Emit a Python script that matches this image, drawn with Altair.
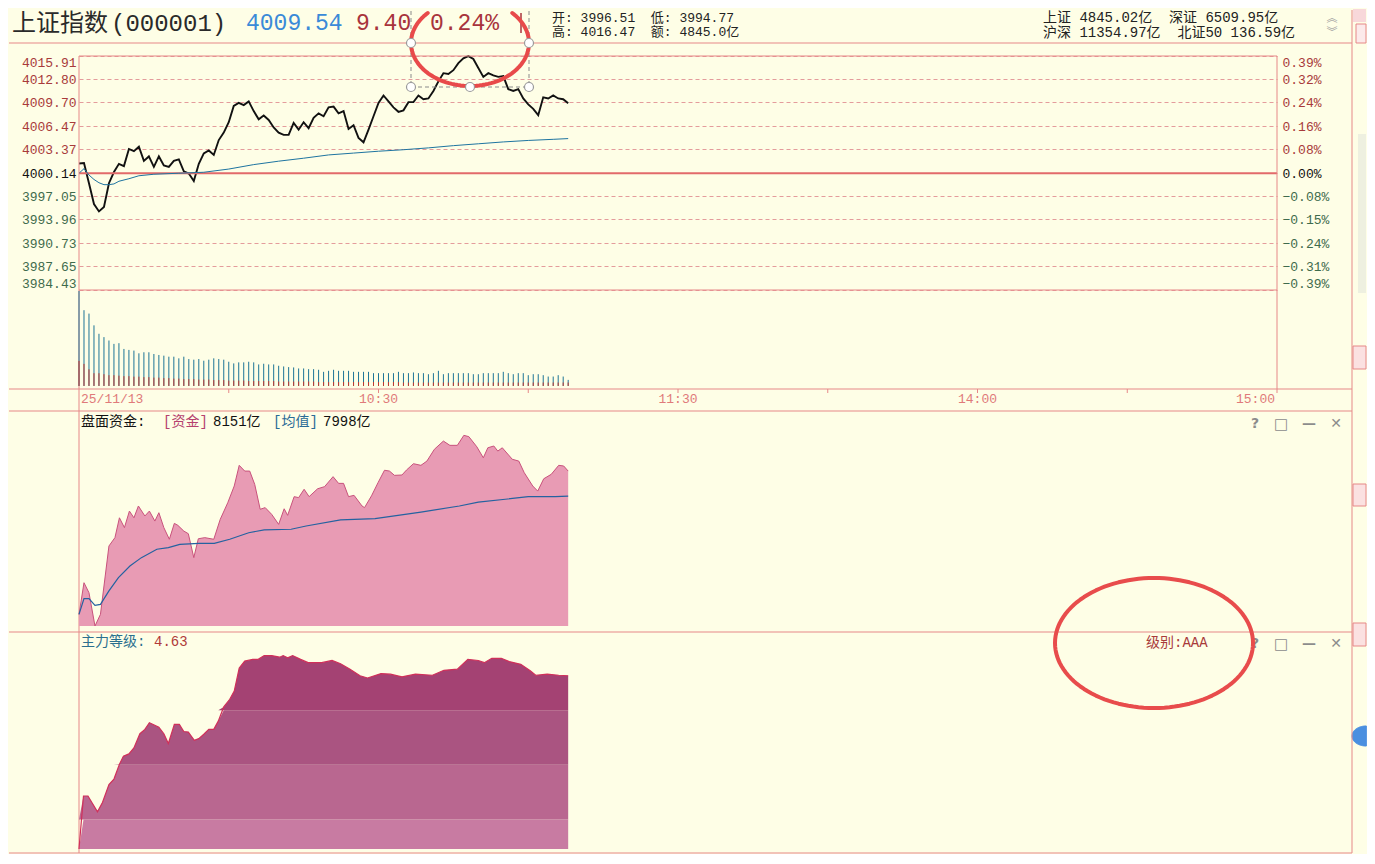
import math
import altair as alt
import pandas as pd

# ---------------- data ----------------
# minutes after 9:30 (0..240 spans 9:30-11:30 / 13:00-15:00)
price_t = list(range(99))
price_v = [4001.45, 4001.5, 3998.8, 3996.0, 3995.0, 3995.6, 3998.8, 4000.3, 4001.4, 4001.1,
           4003.4, 4003.1, 4003.7, 4001.8, 4002.4, 4001.0, 4002.4, 4001.2, 4001.0, 4001.8,
           4002.0, 4000.4, 4000.1, 3999.1, 4001.4, 4002.8, 4003.2, 4002.6, 4004.6, 4005.6,
           4007.0, 4009.2, 4009.6, 4009.3, 4009.8, 4008.5, 4007.4, 4007.9, 4007.3, 4006.3,
           4005.6, 4005.3, 4005.3, 4006.9, 4006.0, 4007.0, 4006.2, 4007.6, 4008.2, 4007.8,
           4009.0, 4009.1, 4008.2, 4008.5, 4006.1, 4006.6, 4004.9, 4004.3, 4006.0, 4007.8,
           4009.6, 4010.6, 4009.8, 4009.0, 4008.4, 4008.6, 4009.7, 4009.7, 4010.6, 4010.1,
           4010.2, 4011.2, 4012.5, 4013.6, 4013.5, 4014.0, 4014.95, 4015.6, 4015.9, 4015.5,
           4014.3, 4013.1, 4013.6, 4013.3, 4013.1, 4013.2, 4011.45, 4011.2, 4011.45, 4010.2,
           4009.4, 4008.8, 4007.95, 4010.35, 4010.2, 4010.6, 4010.2, 4010.1, 4009.54]
avg_t = [0, 1, 2, 3, 4, 5, 6, 7, 8, 10, 12, 15, 20, 25, 30, 35, 40, 45, 50, 55, 60, 65,
         70, 75, 80, 85, 90, 95, 98]
avg_v = [4000.14, 4000.75, 3999.9, 3999.3, 3998.86, 3998.6, 3998.6, 3998.7, 3999.06, 3999.4,
         3999.8, 4000.0, 4000.14, 4000.27, 4000.7, 4001.3, 4001.76, 4002.16, 4002.6, 4002.85,
         4003.1, 4003.3, 4003.55, 4003.85, 4004.1, 4004.35, 4004.55, 4004.7, 4004.8]

vol_t = list(range(99))
vol_v = [193.6, 154.5, 147.6, 123.6, 106.4, 99.6, 92.7, 85.8, 87.2, 75.5,
         73.5, 72.1, 66.6, 68.7, 68.7, 65.2, 63.2, 61.8, 59.7, 59.7,
         56.3, 59.7, 54.9, 53.6, 54.9, 51.5, 53.6, 56.3, 54.9, 53.6,
         49.4, 46.0, 48.1, 48.1, 49.4, 48.1, 43.9, 45.3, 43.9, 43.9,
         41.2, 39.8, 38.5, 37.8, 35.7, 35.7, 34.3, 34.3, 33.0, 28.8,
         30.9, 33.0, 30.9, 30.9, 30.9, 28.8, 28.8, 28.8, 28.8, 26.1,
         26.1, 26.1, 26.1, 26.1, 28.8, 26.1, 26.1, 27.5, 26.1, 26.1,
         24.0, 26.1, 30.9, 24.0, 26.1, 26.1, 26.1, 26.1, 26.1, 24.0,
         24.0, 26.1, 26.1, 26.1, 26.1, 28.8, 26.1, 24.0, 26.1, 26.1,
         22.0, 24.0, 24.0, 22.0, 19.2, 19.2, 22.0, 19.2, 12.4]
vol_red = [51, 45, 34, 26, 26, 24, 22, 22, 21, 20,
           20, 19, 19, 18, 18, 17, 17, 16, 16, 15,
           15, 14, 14, 14, 13, 13, 13, 12, 12, 12,
           11, 11, 11, 11, 10, 10, 10, 10, 10, 10,
           9, 9, 9, 9, 9, 9, 9, 9, 8, 8,
           8, 8, 8, 8, 8, 8, 8, 8, 8, 8,
           8, 8, 8, 8, 8, 7, 7, 7, 7, 7,
           7, 7, 7, 7, 7, 7, 7, 7, 7, 7,
           7, 7, 7, 7, 7, 7, 7, 7, 7, 7,
           7, 7, 7, 7, 7, 7, 7, 7, 7]

cap_t = [0, 1.0, 2.0, 3.2, 4.3, 6.0, 7.2, 8.1, 9.1, 10.1, 11.0, 11.9, 13.2, 14.1, 15.2, 16.0,
         17.0, 18.1, 19.1, 19.8, 21.0, 21.9, 23.0, 23.9, 25.2, 27.0, 28.3, 29.8, 31.1, 32.1,
         33.2, 34.2, 35.2, 36.3, 37.3, 38.6, 40.0, 41.1, 41.8, 43.1, 44.0, 45.1, 46.1, 47.8,
         49.2, 50.9, 52.0, 53.0, 54.0, 55.1, 56.7, 57.2, 58.6, 59.9, 61.2, 62.2, 63.2, 64.7,
         65.6, 67.0, 68.5, 69.7, 71.2, 73.0, 74.3, 75.8, 77.1, 78.1, 79.7, 81.0, 81.9, 83.1,
         83.9, 84.8, 86.8, 88.1, 89.2, 90.9, 91.9, 93.1, 94.6, 96.1, 97.1, 98.0]
cap_v = [7277, 7470, 7409, 7206, 7277, 7694, 7745, 7866, 7806, 7907, 7866, 7938, 7877, 7907,
         7846, 7897, 7806, 7735, 7832, 7820, 7785, 7769, 7623, 7738, 7745, 7735, 7857, 7958,
         8060, 8186, 8151, 8151, 8070, 7918, 7928, 7887, 7826, 7921, 7881, 7995, 7989, 8040,
         7995, 8043, 8056, 8117, 8076, 8076, 7995, 8003, 7938, 7928, 8000, 8080, 8156, 8151,
         8125, 8127, 8157, 8196, 8186, 8212, 8284, 8334, 8308, 8308, 8369, 8361, 8299, 8232,
         8293, 8304, 8273, 8293, 8223, 8212, 8141, 8060, 8029, 8104, 8131, 8186, 8182, 8151]
capavg_t = [0, 1, 2, 3.2, 4.3, 6.0, 7.9, 10.2, 12.5, 15.6, 17.9, 20.2, 24.0, 27.1, 30.2, 34.0,
            37.1, 42.5, 45.5, 52.4, 59.3, 68.5, 76.2, 80.0, 85.4, 90.0, 95.4, 98]
capavg_v = [7277, 7373, 7373, 7332, 7338, 7420, 7501, 7572, 7623, 7674, 7684, 7704, 7710, 7710,
            7735, 7775, 7792, 7796, 7816, 7853, 7861, 7901, 7938, 7962, 7979, 7995, 7995, 7998]

lvl_t = [0, 0.9, 1.8, 3.7, 4.7, 6.0, 7.0, 8.1, 8.9, 10.0, 11.0, 12.2, 13.2, 14.1, 16.0, 17.0,
         17.9, 19.1, 20.1, 21.0, 21.9, 23.1, 24.0, 25.0, 26.0, 27.0, 27.9, 29.0, 30.2, 31.1,
         32.1, 33.2, 34.8, 35.9, 37.1, 38.6, 40.2, 40.9, 41.8, 42.8, 44.4, 45.9, 48.6, 50.7,
         52.4, 54.3, 56.3, 57.8, 60.5, 62.4, 64.7, 67.4, 70.8, 73.1, 75.8, 77.9, 80.0, 81.2,
         82.7, 84.6, 86.2, 88.5, 90.4, 91.5, 93.8, 96.1, 98.0]
lvl_v = [1.46, 2.43, 2.43, 2.14, 2.31, 2.64, 2.74, 3.01, 3.16, 3.20, 3.31, 3.57, 3.65, 3.77,
         3.69, 3.57, 3.39, 3.74, 3.74, 3.61, 3.60, 3.45, 3.48, 3.56, 3.65, 3.65, 3.80, 4.06,
         4.20, 4.35, 4.77, 4.90, 4.93, 4.93, 5.00, 5.00, 4.97, 5.00, 4.96, 5.00, 4.93, 4.87,
         4.87, 4.91, 4.85, 4.75, 4.63, 4.59, 4.67, 4.66, 4.61, 4.66, 4.64, 4.73, 4.75, 4.93,
         4.91, 4.87, 4.95, 4.95, 4.89, 4.84, 4.72, 4.64, 4.66, 4.64, 4.63]

price_ticks = [4015.91, 4012.80, 4009.70, 4006.47, 4003.37, 4000.14, 3997.05, 3993.96,
               3990.73, 3987.65, 3984.43]
prev_close = 4000.14
vol_ticks = [0, 97.84, 195.7]
cap_ticks = [7206, 7788, 8371]
lvl_ticks = [1.46, 3.24, 5.01]
grid_minutes = [30, 60, 90, 120, 150, 180, 210]
time_left_t, time_left = [0], ["25/11/13"]
time_mid_t, time_mid = [60, 120, 180], ["10:30", "11:30", "14:00"]
time_right_t, time_right = [240], ["15:00"]
level_edges = [1.46, 2.0, 3.0, 4.0, 9.0]
level_colors = ["#C87BA2", "#B96790", "#AA5481", "#A44273"]

# header texts (\u00a0 keeps the wide gaps that SVG would otherwise collapse)
SP = "\u00a0"
name, code = "上证指数", "(000001)"
last, chg, pct = "4009.54", "9.40", "0.24%"
line1 = f"开:{SP}3996.51{SP*2}低:{SP}3994.77"
line2 = f"高:{SP}4016.47{SP*2}额:{SP}4845.0亿"
right1 = f"上证{SP}4845.02亿{SP*2}深证{SP}6509.95亿"
right2 = f"沪深{SP}11354.97亿{SP*2}北证50{SP}136.59亿"

# ---------------- styling ----------------
BG = "#FEFEE6"
LINE = "#E68888"
GRID = "#E49C9C"
GRID2 = "#E6B2A6"
TEAL = "#2B6F8E"
DRED = "#A8343C"
MONO = "Liberation Mono"
CJK = "Noto Sans CJK SC"
MIX = "Liberation Mono, Noto Sans CJK SC"
W = 1198

ONE = pd.DataFrame({"k": [0]})
xs = alt.Scale(domain=[0, 240], nice=False, zero=False)


def X(field="t:Q", axis=None):
    return alt.X(field, scale=xs, axis=axis)


def hline(o, x1, x2, y, color=LINE, width=1, dash=None):
    kw = dict(color=color, strokeWidth=width)
    if dash:
        kw["strokeDash"] = dash
    return alt.Chart(ONE).mark_rule(**kw).encode(
        x=alt.value(x1 - o[0]), x2=alt.value(x2 - o[0]), y=alt.value(y - o[1]))


def vline(o, x, y1, y2, color=LINE, width=1, dash=None):
    kw = dict(color=color, strokeWidth=width)
    if dash:
        kw["strokeDash"] = dash
    return alt.Chart(ONE).mark_rule(**kw).encode(
        x=alt.value(x - o[0]), y=alt.value(y1 - o[1]), y2=alt.value(y2 - o[1]))


def box(o, x1, x2, y1, y2, fill, stroke=None):
    kw = dict(fill=fill, opacity=1)
    if stroke:
        kw.update(stroke=stroke, strokeWidth=1)
    return alt.Chart(ONE).mark_rect(**kw).encode(
        x=alt.value(x1 - o[0]), x2=alt.value(x2 - o[0]),
        y=alt.value(y1 - o[1]), y2=alt.value(y2 - o[1]))


def label(o, x, y, s, color, size=13, font=MIX, align="left", weight="normal"):
    return alt.Chart(ONE).mark_text(text=s, color=color, fontSize=size, font=font,
                                    align=align, baseline="middle", fontWeight=weight).encode(
        x=alt.value(x - o[0]), y=alt.value(y - o[1]))


def symbol(o, x, y, shape, size, stroke, width=1, fill=None):
    kw = dict(shape=shape, size=size, stroke=stroke, strokeWidth=width, opacity=1,
              strokeJoin="round", strokeCap="round")
    if fill:
        kw.update(filled=True, fill=fill)
    else:
        kw.update(filled=False)
    return alt.Chart(ONE).mark_point(**kw).encode(x=alt.value(x - o[0]), y=alt.value(y - o[1]))


def ellipse_shape(ratio, a0, a1, n=90, close=False):
    """Annotation outline as a polyline symbol path in [-1, 1] units (x radius = 1)."""
    pts = []
    for i in range(n + 1):
        a = a0 + (a1 - a0) * i / n
        pts.append(f"{math.cos(a):.4f} {ratio * math.sin(a):.4f}")
    return "M " + " L ".join(pts) + (" Z" if close else "")


def icons(o, y):
    return [label(o, 1255, y, "?", "#8C8C8C", 14, "DejaVu Sans", "center", "bold"),
            label(o, 1281, y, "□", "#8C8C8C", 15, "DejaVu Sans", "center"),
            label(o, 1309, y, "—", "#8C8C8C", 14, "DejaVu Sans", "center", "bold"),
            label(o, 1336, y, "✕", "#8C8C8C", 14, "DejaVu Sans", "center", "bold")]


def baseline_cond(hi, lo):
    return {"condition": [{"test": f"datum.value > {hi}", "value": "top"},
                          {"test": f"datum.value < {lo}", "value": "bottom"}],
            "value": "middle"}


# ---------------- panel 1: price ----------------
P1 = (79, 55)
price_df = pd.DataFrame({"t": price_t, "v": price_v})
avg_df = pd.DataFrame({"t": avg_t, "v": avg_v})
pscale = alt.Scale(domain=[3984.43, 4015.91], nice=False, zero=False)
pcolor = {"condition": [{"test": "datum.value > 4000.5", "value": "#A83A3A"},
                        {"test": "datum.value < 3999.5", "value": "#3E6B4C"}],
          "value": "#111111"}

price_line = alt.Chart(price_df).mark_line(color="#111111", strokeWidth=1.9).encode(
    x=X(axis=alt.Axis(values=grid_minutes, grid=True, gridColor=GRID, gridDash=[4, 3],
                      labels=False, ticks=False, domain=False, title=None)),
    y=alt.Y("v:Q", scale=pscale,
            axis=alt.Axis(values=price_ticks, format=".2f", grid=True, gridColor=GRID,
                          gridDash=[4, 3], ticks=False, domain=False, title=None,
                          labelFont=MONO, labelFontSize=13, labelPadding=3,
                          labelColor=pcolor, labelBaseline=baseline_cond(4015, 3985))))
avg_line = alt.Chart(avg_df).mark_line(color="#1E74A0", strokeWidth=1).encode(
    x=X(), y=alt.Y("v:Q", scale=pscale, axis=None))
base_rule = alt.Chart(ONE).mark_rule(color="#E26A6A", strokeWidth=2).encode(
    y=alt.YDatum(prev_close, type="quantitative", scale=pscale,
                 axis=alt.Axis(orient="right", values=price_ticks, ticks=False, domain=False,
                               grid=False, title=None, labelFont=MONO, labelFontSize=13,
                               labelPadding=5, labelColor=pcolor,
                               labelBaseline=baseline_cond(4015, 3985),
                               labelExpr="format((datum.value - 4000.14) / 4000.14 * 100, '.2f') + '%'")))

# red ellipse around the percentage: centre (470, 42), radii 59 x 43, cut at the top edge
e1_ratio = 43 / 59
e1_cut = math.asin(30 / 43)
ell1 = ellipse_shape(e1_ratio, math.pi + e1_cut, -e1_cut)
blob = ellipse_shape(10 / 14, math.pi / 2, 3 * math.pi / 2, 40, close=True)

decor1 = [
    # right strip
    box(P1, 1353, 1366, 8, 21, "#F8D8DA"),
    box(P1, 1356, 1366, 23, 42, "#FCEAEA", LINE),
    box(P1, 1358, 1366, 133, 292, "#EEF0E0"),
    box(P1, 1353, 1366, 345, 368, "#FBE1E1", LINE),
    box(P1, 1353, 1366, 483, 505, "#FBE1E1", LINE),
    box(P1, 1353, 1366, 622, 645, "#FBE1E1", LINE),
    symbol(P1, 1366, 735, blob, 28 ** 2, "#4A8FE0", 1, "#4A8FE0"),
    # frame lines
    hline(P1, 9, 1352, 42),
    hline(P1, 79, 1277, 55),
    hline(P1, 79, 1277, 289),
    hline(P1, 9, 1352, 388),
    hline(P1, 9, 1352, 410),
    hline(P1, 9, 1352, 631),
    hline(P1, 9, 1352, 852),
    vline(P1, 79, 55, 852),
    vline(P1, 1277, 55, 388),
    vline(P1, 1352, 9, 852),
]
header = [
    label(P1, 12, 23, name, "#2A2A2A", 24, CJK),
    label(P1, 111, 23, code, "#2A2A2A", 24, MONO),
    label(P1, 246, 22, last, "#3A8AD8", 23, MONO),
    label(P1, 356, 22, chg, DRED, 23, MONO),
    label(P1, 430, 22, pct, DRED, 23, MONO),
    vline(P1, 521, 12, 32, DRED, 1.5),
    label(P1, 552, 17, line1, "#222222", 13),
    label(P1, 552, 31, line2, "#222222", 13),
    label(P1, 1043, 17, right1, "#222222", 14),
    label(P1, 1043, 32, right2, "#222222", 14),
    label(P1, 1332, 18, "︽", "#A0A0A0", 11, CJK, "center"),
    label(P1, 1332, 32, "︾", "#A0A0A0", 11, CJK, "center"),
]
selection = [
    vline(P1, 411, 10, 86, "#8A8A8A", 1, [4, 3]),
    vline(P1, 529, 10, 86, "#8A8A8A", 1, [4, 3]),
    hline(P1, 411, 529, 86, "#8A8A8A", 1, [4, 3]),
    symbol(P1, 470, 42, ell1, 118 ** 2, "#E84A4A", 4),
] + [symbol(P1, hx, hy, "circle", 81, "#9A9A9A", 1.2, "white")
     for hx, hy in [(411, 42), (529, 42), (411, 86), (470, 86), (529, 86)]]

price_panel = alt.layer(
    *decor1[:7], price_line, base_rule, avg_line, *decor1[7:], *header, *selection
).resolve_axis(y="independent").properties(width=W, height=234)

# ---------------- panel 2: volume ----------------
vol_df = pd.DataFrame({"t": vol_t, "v": vol_v, "r": vol_red})
vscale = alt.Scale(domain=[-6.2, 195.7], nice=False, zero=False)
vol_bars = alt.Chart(vol_df).mark_rule(color="#1D7496", strokeWidth=1).encode(
    x=X(), y=alt.Y("v:Q", scale=vscale,
                   axis=alt.Axis(values=vol_ticks, ticks=False, domain=False, grid=False,
                                 title=None, labelFont=MIX, labelFontSize=13, labelPadding=3,
                                 labelColor=TEAL, labelBaseline=baseline_cond(150, 1),
                                 labelExpr="datum.value == 0 ? '0.00' : datum.value + '亿'")),
    y2=alt.datum(0))
vol_redbars = alt.Chart(vol_df).mark_rule(color="#C23A30", strokeWidth=1).encode(
    x=X(), y=alt.Y("r:Q", scale=vscale, axis=None), y2=alt.datum(0))
vol_panel = alt.layer(vol_bars, vol_redbars).properties(width=W, height=99)

# ---------------- panel 3: time row ----------------
TCOL = "#E07A7A"
t_ticks = alt.Chart(pd.DataFrame({"t": grid_minutes + [240]})).mark_rule(
    color=LINE, strokeWidth=1).encode(x=X(), y=alt.value(0), y2=alt.value(4))
t_left = alt.Chart(pd.DataFrame({"t": time_left_t, "s": time_left})).mark_text(
    align="left", dx=2, color=TCOL, font=MONO, fontSize=13, baseline="middle").encode(
    x=X(), y=alt.value(10), text="s:N")
t_mid = alt.Chart(pd.DataFrame({"t": time_mid_t, "s": time_mid})).mark_text(
    align="center", color=TCOL, font=MONO, fontSize=13, baseline="middle").encode(
    x=X(), y=alt.value(10), text="s:N")
t_right = alt.Chart(pd.DataFrame({"t": time_right_t, "s": time_right})).mark_text(
    align="right", dx=-2, color=TCOL, font=MONO, fontSize=13, baseline="middle").encode(
    x=X(), y=alt.value(10), text="s:N")
time_panel = alt.layer(t_ticks, t_left, t_mid, t_right).properties(width=W, height=22)

# ---------------- panel 4: 盘面资金 ----------------
P4 = (79, 410)
cap_df = pd.DataFrame({"t": cap_t, "v": cap_v})
capavg_df = pd.DataFrame({"t": capavg_t, "v": capavg_v})
cscale = alt.Scale(domain=[7169.4, 8517.4], nice=False, zero=False)
cap_area = alt.Chart(cap_df).mark_area(
    color="#E89BB4", opacity=1, line={"color": "#C8527C", "strokeWidth": 1}).encode(
    x=X(), y=alt.Y("v:Q", scale=cscale,
                   axis=alt.Axis(values=cap_ticks, ticks=False, domain=False, grid=True,
                                 gridColor=GRID2, gridDash=[3, 3], title=None,
                                 labelFont=MIX, labelFontSize=13, labelPadding=3,
                                 labelColor=TEAL, labelBaseline=baseline_cond(8000, 7500),
                                 labelExpr="datum.value + '亿'")),
    y2=alt.datum(7206))
cap_avg = alt.Chart(capavg_df).mark_line(color="#2462A0", strokeWidth=1.2).encode(
    x=X(), y=alt.Y("v:Q", scale=cscale, axis=None))
cap_text = [
    label(P4, 81, 421, "盘面资金:", "#111111", 14),
    label(P4, 163, 421, "[资金]", "#B5416E", 14),
    label(P4, 213, 421, "8151亿", "#111111", 14),
    label(P4, 273, 421, "[均值]", "#2A6B96", 14),
    label(P4, 323, 421, "7998亿", "#111111", 14),
] + icons(P4, 423)
cap_panel = alt.layer(cap_area, cap_avg, *cap_text).properties(width=W, height=221)

# ---------------- panel 5: 主力等级 ----------------
P5 = (79, 631)
lvl_df = pd.DataFrame({"t": lvl_t, "v": lvl_v})
lscale = alt.Scale(domain=[1.387, 5.431], nice=False, zero=False)
bands = []
for lo, hi, col in zip(level_edges[:-1], level_edges[1:], level_colors):
    bands.append(alt.Chart(lvl_df).transform_calculate(top=f"clamp(datum.v, {lo}, {hi})")
                 .mark_area(color=col, opacity=1).encode(
        x=X(), y=alt.Y("top:Q", scale=lscale, axis=None), y2=alt.datum(lo)))
lvl_line = alt.Chart(lvl_df).mark_line(color="#D0305A", strokeWidth=1.2).encode(
    x=X(), y=alt.Y("v:Q", scale=lscale,
                   axis=alt.Axis(values=lvl_ticks, format=".2f", ticks=False, domain=False,
                                 grid=True, gridColor=GRID2, gridDash=[3, 3], title=None,
                                 labelFont=MONO, labelFontSize=13, labelPadding=3,
                                 labelColor=TEAL, labelBaseline=baseline_cond(4.5, 2))))
ell2 = ellipse_shape(65 / 99, 0, 2 * math.pi, 120, close=True)
lvl_text = [
    label(P5, 81, 641, "主力等级:", TEAL, 14),
    label(P5, 154, 641, "4.63", "#B03A3A", 14),
    label(P5, 1146, 642, "级别:AAA", "#A83A3A", 14),
] + icons(P5, 643) + [symbol(P5, 1154, 642, ell2, 198 ** 2, "#E84C4C", 4)]
lvl_panel = alt.layer(*bands, lvl_line, *lvl_text).properties(width=W, height=221)

chart = alt.vconcat(price_panel, vol_panel, time_panel, cap_panel, lvl_panel,
                    spacing=0, bounds="flush", padding=0).resolve_scale(
    x="independent", y="independent").configure(background=BG).configure_view(
    stroke="transparent")

chart.save("out.html", embed_options={"renderer": "svg", "actions": False})
